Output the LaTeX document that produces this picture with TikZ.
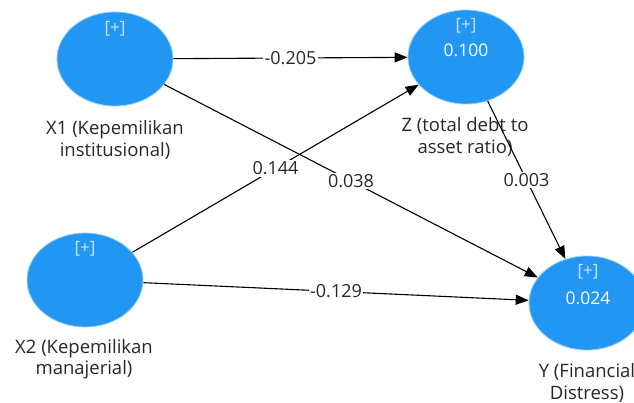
\documentclass[tikz,border=0pt]{standalone}
\usepackage{fontspec}
\setmainfont{Open Sans}
\usetikzlibrary{shapes.geometric,arrows.meta}
\definecolor{latent}{RGB}{33,150,243}
\definecolor{latentrim}{RGB}{150,205,250}
\definecolor{plus}{RGB}{200,228,252}
\definecolor{txt}{RGB}{40,40,40}
\tikzset{
  latentvar/.style={ellipse,fill=latent,draw=latentrim,line width=0.8pt,minimum width=116pt,minimum height=94pt,inner sep=0pt},
  plustxt/.style={text=plus,font=\fontsize{17}{19}\selectfont},
  rsq/.style={text=white,font=\fontsize{17.5}{19}\selectfont},
  namelbl/.style={text=txt,align=center,font=\fontsize{18.5}{21.5}\selectfont},
  path/.style={draw=black,line width=1.1pt,-{Triangle[length=13pt,width=10pt]}},
  coef/.style={fill=white,text=txt,inner sep=1.5pt,font=\fontsize{18}{20}\selectfont}
}
\begin{document}
\begin{tikzpicture}[x=1pt,y=-1pt]
\clip (0,0) rectangle (634,403);
\fill[white] (0,0) rectangle (634,403);
% latent variables
\node[latentvar] (x1) at (115,59) {};
\node[latentvar] (z) at (466,57) {};
\node[latentvar] (x2) at (85,280) {};
\node[latentvar] (y) at (587,303) {};
% inner texts
\node[plustxt] (x1p) at (115,29) {[+]};
\node[plustxt] (zp) at (466,26) {[+]};
\node[rsq] (zr) at (466,50) {0.100};
\node[plustxt] (x2p) at (85,249) {[+]};
\node[plustxt] (yp) at (588,272) {[+]};
\node[rsq] (yr) at (588,298) {0.024};
% names
\node[namelbl] (x1n) at (115,140) {X1 (Kepemilikan\\institusional)};
\node[namelbl] (zn) at (465,137) {Z (total debt to\\asset ratio)};
\node[namelbl] (x2n) at (84,359) {X2 (Kepemilikan\\manajerial)};
\node[namelbl] (yn) at (587,383) {Y (Financial\\Distress)};
% paths
\draw[path] (x1) -- node[coef,pos=0.5] {-0.205} (z);
\draw[path] (x1) -- node[coef,pos=0.5] {0.038} (y);
\draw[path] (x2) -- node[coef,pos=0.5] {0.144} (z);
\draw[path] (x2) -- node[coef,pos=0.5] {-0.129} (y);
\draw[path] (z) -- node[coef,pos=0.5] {0.003} (y);
\end{tikzpicture}
\end{document}
